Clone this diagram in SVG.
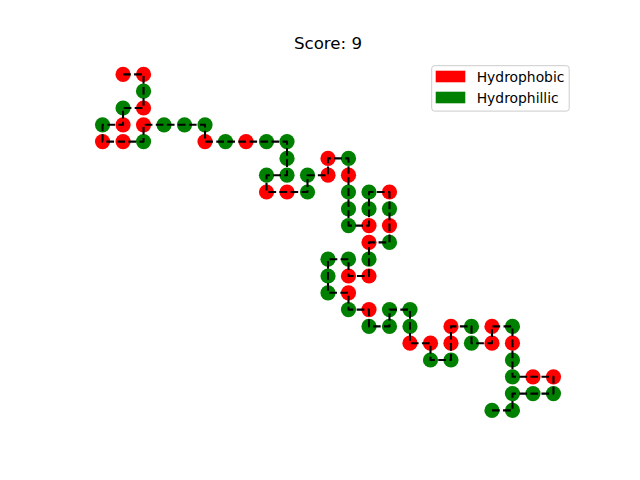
<svg xmlns="http://www.w3.org/2000/svg" width="640" height="480" viewBox="0 0 640 480">
<style>
  .r { fill: #ff0000; }
  .g { fill: #008000; }
  .chain { fill: none; stroke: #000000; stroke-width: 2.08; stroke-dasharray: 7.71 3.33; stroke-linejoin: round; stroke-linecap: butt; }
  .title { font-family: "DejaVu Sans", sans-serif; font-size: 16.67px; fill: #000000; }
  .leg { font-family: "DejaVu Sans", sans-serif; font-size: 13.89px; fill: #000000; }
</style>
<rect width="640" height="480" fill="#ffffff"/>
<text class="title" x="328" y="49.3" text-anchor="middle">Score: 9</text>
<g id="nodes">
  <circle id="n1" class="r" cx="123.05" cy="74.4" r="7.6"/>
  <circle id="n2" class="r" cx="143.54" cy="74.4" r="7.6"/>
  <circle id="n3" class="g" cx="143.54" cy="91.2" r="7.6"/>
  <circle id="n4" class="r" cx="143.54" cy="108" r="7.6"/>
  <circle id="n5" class="g" cx="123.05" cy="108" r="7.6"/>
  <circle id="n6" class="r" cx="123.05" cy="124.8" r="7.6"/>
  <circle id="n7" class="g" cx="102.55" cy="124.8" r="7.6"/>
  <circle id="n8" class="r" cx="102.55" cy="141.6" r="7.6"/>
  <circle id="n9" class="r" cx="123.05" cy="141.6" r="7.6"/>
  <circle id="n10" class="g" cx="143.54" cy="141.6" r="7.6"/>
  <circle id="n11" class="r" cx="143.54" cy="124.8" r="7.6"/>
  <circle id="n12" class="g" cx="164.04" cy="124.8" r="7.6"/>
  <circle id="n13" class="g" cx="184.53" cy="124.8" r="7.6"/>
  <circle id="n14" class="g" cx="205.03" cy="124.8" r="7.6"/>
  <circle id="n15" class="r" cx="205.03" cy="141.6" r="7.6"/>
  <circle id="n16" class="g" cx="225.53" cy="141.6" r="7.6"/>
  <circle id="n17" class="r" cx="246.02" cy="141.6" r="7.6"/>
  <circle id="n18" class="g" cx="266.52" cy="141.6" r="7.6"/>
  <circle id="n19" class="g" cx="287.01" cy="141.6" r="7.6"/>
  <circle id="n20" class="g" cx="287.01" cy="158.4" r="7.6"/>
  <circle id="n21" class="g" cx="287.01" cy="175.2" r="7.6"/>
  <circle id="n22" class="g" cx="266.52" cy="175.2" r="7.6"/>
  <circle id="n23" class="r" cx="266.52" cy="192" r="7.6"/>
  <circle id="n24" class="r" cx="287.01" cy="192" r="7.6"/>
  <circle id="n25" class="g" cx="307.51" cy="192" r="7.6"/>
  <circle id="n26" class="g" cx="307.51" cy="175.2" r="7.6"/>
  <circle id="n27" class="r" cx="328.01" cy="175.2" r="7.6"/>
  <circle id="n28" class="r" cx="328.01" cy="158.4" r="7.6"/>
  <circle id="n29" class="g" cx="348.5" cy="158.4" r="7.6"/>
  <circle id="n30" class="r" cx="348.5" cy="175.2" r="7.6"/>
  <circle id="n31" class="g" cx="348.5" cy="192" r="7.6"/>
  <circle id="n32" class="g" cx="348.5" cy="208.8" r="7.6"/>
  <circle id="n33" class="g" cx="348.5" cy="225.6" r="7.6"/>
  <circle id="n34" class="r" cx="369" cy="225.6" r="7.6"/>
  <circle id="n35" class="g" cx="369" cy="208.8" r="7.6"/>
  <circle id="n36" class="g" cx="369" cy="192" r="7.6"/>
  <circle id="n37" class="r" cx="389.49" cy="192" r="7.6"/>
  <circle id="n38" class="g" cx="389.49" cy="208.8" r="7.6"/>
  <circle id="n39" class="r" cx="389.49" cy="225.6" r="7.6"/>
  <circle id="n40" class="g" cx="389.49" cy="242.4" r="7.6"/>
  <circle id="n41" class="r" cx="369" cy="242.4" r="7.6"/>
  <circle id="n42" class="g" cx="369" cy="259.2" r="7.6"/>
  <circle id="n43" class="r" cx="369" cy="276" r="7.6"/>
  <circle id="n44" class="r" cx="348.5" cy="276" r="7.6"/>
  <circle id="n45" class="g" cx="348.5" cy="259.2" r="7.6"/>
  <circle id="n46" class="g" cx="328.01" cy="259.2" r="7.6"/>
  <circle id="n47" class="g" cx="328.01" cy="276" r="7.6"/>
  <circle id="n48" class="g" cx="328.01" cy="292.8" r="7.6"/>
  <circle id="n49" class="r" cx="348.5" cy="292.8" r="7.6"/>
  <circle id="n50" class="g" cx="348.5" cy="309.6" r="7.6"/>
  <circle id="n51" class="r" cx="369" cy="309.6" r="7.6"/>
  <circle id="n52" class="g" cx="369" cy="326.4" r="7.6"/>
  <circle id="n53" class="g" cx="389.49" cy="326.4" r="7.6"/>
  <circle id="n54" class="g" cx="389.49" cy="309.6" r="7.6"/>
  <circle id="n55" class="g" cx="409.99" cy="309.6" r="7.6"/>
  <circle id="n56" class="g" cx="409.99" cy="326.4" r="7.6"/>
  <circle id="n57" class="r" cx="409.99" cy="343.2" r="7.6"/>
  <circle id="n58" class="r" cx="430.49" cy="343.2" r="7.6"/>
  <circle id="n59" class="g" cx="430.49" cy="360" r="7.6"/>
  <circle id="n60" class="g" cx="450.98" cy="360" r="7.6"/>
  <circle id="n61" class="r" cx="450.98" cy="343.2" r="7.6"/>
  <circle id="n62" class="r" cx="450.98" cy="326.4" r="7.6"/>
  <circle id="n63" class="g" cx="471.48" cy="326.4" r="7.6"/>
  <circle id="n64" class="g" cx="471.48" cy="343.2" r="7.6"/>
  <circle id="n65" class="r" cx="491.97" cy="343.2" r="7.6"/>
  <circle id="n66" class="r" cx="491.97" cy="326.4" r="7.6"/>
  <circle id="n67" class="g" cx="512.47" cy="326.4" r="7.6"/>
  <circle id="n68" class="r" cx="512.47" cy="343.2" r="7.6"/>
  <circle id="n69" class="g" cx="512.47" cy="360" r="7.6"/>
  <circle id="n70" class="g" cx="512.47" cy="376.8" r="7.6"/>
  <circle id="n71" class="r" cx="532.97" cy="376.8" r="7.6"/>
  <circle id="n72" class="r" cx="553.46" cy="376.8" r="7.6"/>
  <circle id="n73" class="g" cx="553.46" cy="393.6" r="7.6"/>
  <circle id="n74" class="g" cx="532.97" cy="393.6" r="7.6"/>
  <circle id="n75" class="g" cx="512.47" cy="393.6" r="7.6"/>
  <circle id="n76" class="g" cx="512.47" cy="410.4" r="7.6"/>
  <circle id="n77" class="g" cx="491.97" cy="410.4" r="7.6"/>
</g>
<g id="connectors">
  <polyline class="chain" points="123.05,74.4 143.54,74.4 143.54,91.2 143.54,108 123.05,108 123.05,124.8 102.55,124.8 102.55,141.6 123.05,141.6 143.54,141.6 143.54,124.8 164.04,124.8 184.53,124.8 205.03,124.8 205.03,141.6 225.53,141.6 246.02,141.6 266.52,141.6 287.01,141.6 287.01,158.4 287.01,175.2 266.52,175.2 266.52,192 287.01,192 307.51,192 307.51,175.2 328.01,175.2 328.01,158.4 348.5,158.4 348.5,175.2 348.5,192 348.5,208.8 348.5,225.6 369,225.6 369,208.8 369,192 389.49,192 389.49,208.8 389.49,225.6 389.49,242.4 369,242.4 369,259.2 369,276 348.5,276 348.5,259.2 328.01,259.2 328.01,276 328.01,292.8 348.5,292.8 348.5,309.6 369,309.6 369,326.4 389.49,326.4 389.49,309.6 409.99,309.6 409.99,326.4 409.99,343.2 430.49,343.2 430.49,360 450.98,360 450.98,343.2 450.98,326.4 471.48,326.4 471.48,343.2 491.97,343.2 491.97,326.4 512.47,326.4 512.47,343.2 512.47,360 512.47,376.8 532.97,376.8 553.46,376.8 553.46,393.6 532.97,393.6 512.47,393.6 512.47,410.4 491.97,410.4"/>
</g>
<g id="legend">
  <rect x="431.7" y="65.7" width="137.5" height="45.4" rx="2.8" fill="#ffffff" fill-opacity="0.8" stroke="#cccccc" stroke-width="1"/>
  <rect x="435.7" y="70.7" width="29.6" height="11.6" fill="#ff0000"/>
  <text class="leg" x="476.7" y="81.7">Hydrophobic</text>
  <rect x="435.7" y="91.7" width="29.6" height="11.6" fill="#008000"/>
  <text class="leg" x="476.7" y="102.7">Hydrophillic</text>
</g>
</svg>
